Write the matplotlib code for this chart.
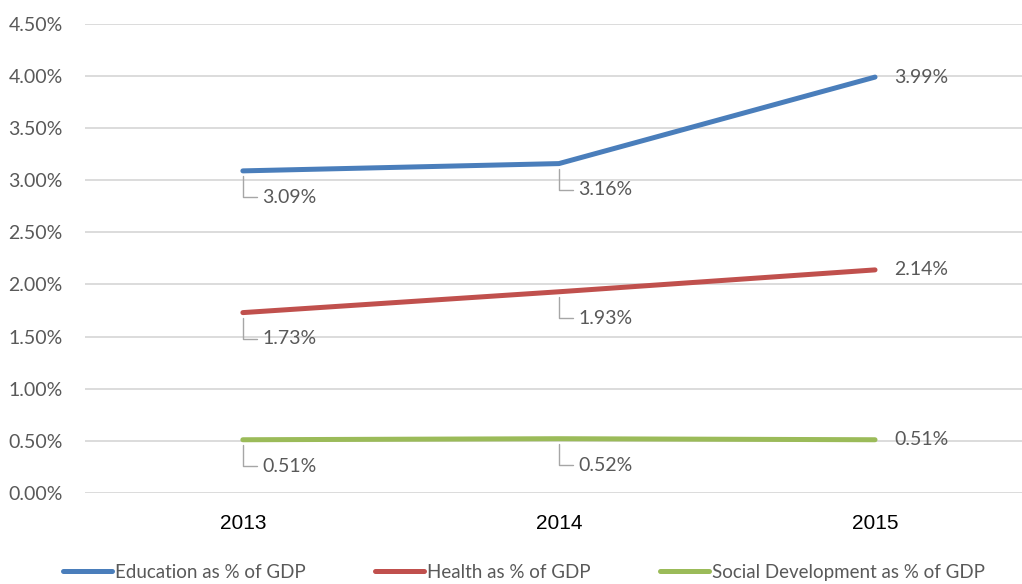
import matplotlib.pyplot as plt
from matplotlib.ticker import FuncFormatter

years = ['2013', '2014', '2015']
education = [3.09, 3.16, 3.99]
health = [1.73, 1.93, 2.14]
social = [0.51, 0.52, 0.51]

series = [
    ('Education as % of GDP', education, '#4a7ebb'),
    ('Health as % of GDP', health, '#c0504d'),
    ('Social Development as % of GDP', social, '#9bbb59'),
]

label_grey = '#595959'

fig = plt.figure(figsize=(10.22, 5.84), dpi=100)
ax = fig.add_axes([0.083, 0.156, 0.917, 0.803])

x = list(range(len(years)))
for name, vals, color in series:
    ax.plot(x, vals, color=color, lw=3.6, label=name, solid_capstyle='round', zorder=3)
    for i, v in enumerate(vals):
        txt = f'{v:.2f}%'
        if i == len(vals) - 1:
            ax.annotate(txt, (i, v), xytext=(14, 0), textcoords='offset points',
                        ha='left', va='center', fontsize=14, color=label_grey,
                        family='Lato')
        else:
            ax.annotate(txt, (i, v), xytext=(14, -19), textcoords='offset points',
                        ha='left', va='center', fontsize=14, color=label_grey,
                        family='Lato',
                        arrowprops=dict(arrowstyle='-', color='#a6a6a6', lw=1,
                                        connectionstyle='angle,angleA=0,angleB=90,rad=0',
                                        shrinkA=2, shrinkB=4))

ax.set_xlim(-0.5, 2.465)
ax.set_ylim(0, 4.5)
ax.set_yticks([i * 0.5 for i in range(10)])
ax.yaxis.set_major_formatter(FuncFormatter(lambda v, p: f'{v:.2f}%'))
ax.set_xticks(x)
ax.set_xticklabels(years, fontsize=15, color='black', family='Liberation Sans')
ax.tick_params(axis='x', length=0, pad=15)
ax.tick_params(axis='y', length=0, pad=16, labelsize=14, labelcolor=label_grey)
for lab in ax.get_yticklabels():
    lab.set_family('Lato')

ax.grid(axis='y', color='#d9d9d9', lw=1.3, zorder=0)
for s in ax.spines.values():
    s.set_visible(False)

fig.legend(loc='center', bbox_to_anchor=(0.513, 0.02), ncol=3, frameon=False,
           handlelength=2.6, columnspacing=3.7, handletextpad=0.17,
           borderaxespad=0, borderpad=0,
           prop={'family': 'Lato', 'size': 13.5},
           labelcolor=label_grey)

fig.savefig('out.png', dpi=100)
